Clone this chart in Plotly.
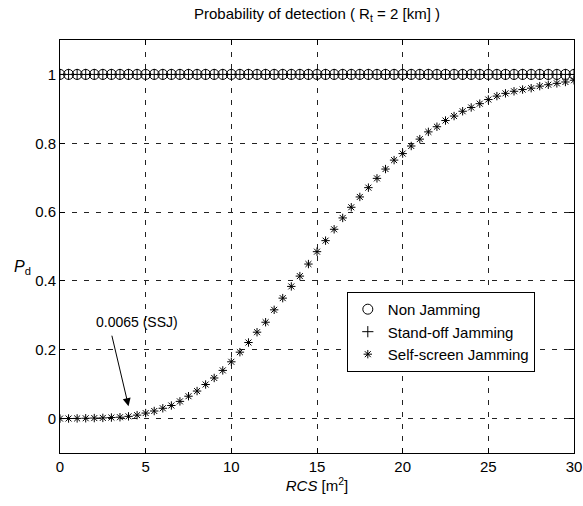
import plotly.graph_objects as go

rcs = [i * 0.5 for i in range(61)]
pd_nj = [1.0] * 61
pd_soj = [1.0] * 61
pd_ssj = [0.0, 0.0002, 0.0005, 0.001, 0.0015, 0.002, 0.003, 0.004, 0.0065, 0.010,
          0.016, 0.022, 0.030, 0.038, 0.050, 0.065, 0.080, 0.099, 0.118, 0.140,
          0.165, 0.193, 0.221, 0.251, 0.280, 0.316, 0.350, 0.384, 0.414, 0.449,
          0.485, 0.517, 0.550, 0.583, 0.614, 0.644, 0.671, 0.698, 0.725, 0.751,
          0.770, 0.792, 0.812, 0.833, 0.848, 0.866, 0.879, 0.893, 0.904, 0.915,
          0.927, 0.937, 0.945, 0.951, 0.956, 0.960, 0.966, 0.970, 0.974, 0.978,
          0.983]
x_ticks = [0, 5, 10, 15, 20, 25, 30]
y_ticks = [0, 0.2, 0.4, 0.6, 0.8, 1]
y_tick_labels = ["0", "0.2", "0.4", "0.6", "0.8", "1"]

FONT = "Liberation Sans, Arial, Helvetica, sans-serif"

fig = go.Figure()
fig.add_trace(go.Scatter(x=rcs, y=pd_nj, mode="markers", name="Non Jamming",
                         marker=dict(symbol="circle-open", size=10, color="black",
                                     line=dict(width=1, color="black"))))
fig.add_trace(go.Scatter(x=rcs, y=pd_soj, mode="markers", name="Stand-off Jamming",
                         marker=dict(symbol="cross-thin-open", size=8, color="black",
                                     line=dict(width=1, color="black"))))
fig.add_trace(go.Scatter(x=rcs, y=pd_ssj, mode="markers", name="Self-screen Jamming",
                         marker=dict(symbol="asterisk-open", size=7, color="black",
                                     line=dict(width=1, color="black"))))

axis_common = dict(
    showline=True, linecolor="black", linewidth=1, mirror="ticks",
    ticks="inside", ticklen=5, tickcolor="black",
    showgrid=True, gridcolor="#222", gridwidth=0.8, griddash="5px,7px",
    zeroline=False, automargin=False,
    tickfont=dict(family=FONT, size=15, color="black"),
)

fig.update_xaxes(range=[0, 30], tickvals=x_ticks, **axis_common,
                 title=dict(text="<i>RCS</i> [m<sup>2</sup>]", standoff=6,
                            font=dict(family=FONT, size=15, color="black")))
fig.update_yaxes(range=[-0.1, 1.1], tickvals=y_ticks, ticktext=y_tick_labels,
                 **axis_common)

fig.add_annotation(x=4, y=0.036, xref="x", yref="y", text="", showarrow=True,
                   ax=-17, ay=-72, axref="pixel", ayref="pixel",
                   arrowhead=2, arrowsize=1.6, arrowwidth=1, arrowcolor="black")
fig.add_annotation(x=4.5, y=0.281, xref="x", yref="y", text="0.0065 (SSJ)",
                   showarrow=False, font=dict(family=FONT, size=14, color="black"))
fig.add_annotation(xref="paper", yref="paper", x=-0.072, y=0.45,
                   text="<i>P</i><sub>d</sub>", showarrow=False,
                   xanchor="center", yanchor="middle",
                   font=dict(family=FONT, size=16, color="black"))

fig.update_layout(
    width=583, height=506,
    margin=dict(l=60, r=9, t=40, b=53),
    paper_bgcolor="white", plot_bgcolor="white",
    title=dict(text="Probability of detection ( R<sub>t</sub> = 2 [km] )",
               x=(60 + 574) / 2 / 583, xanchor="center", y=1 - 14 / 506, yanchor="middle",
               font=dict(family=FONT, size=15, color="black")),
    legend=dict(x=0.558, y=0.39, xanchor="left", yanchor="top",
                bordercolor="black", borderwidth=1, bgcolor="white",
                font=dict(family=FONT, size=15, color="black"),
                tracegroupgap=0),
    showlegend=True,
)

fig.write_html("out.html")
